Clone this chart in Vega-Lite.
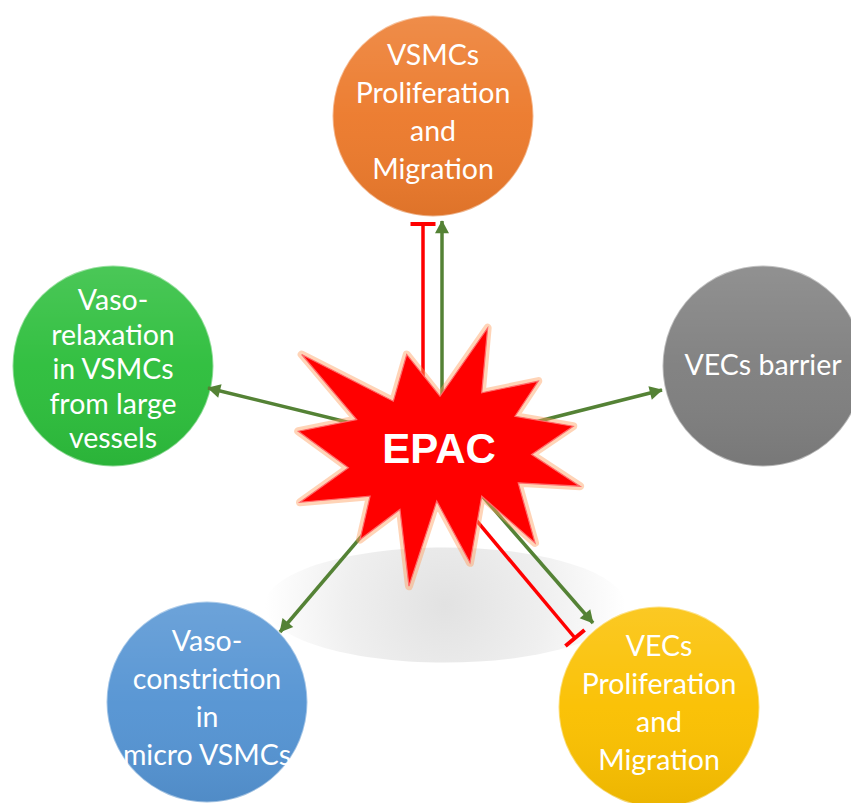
{
  "$schema": "https://vega.github.io/schema/vega-lite/v6.json",
  "width": 851,
  "height": 803,
  "padding": 0,
  "autosize": "none",
  "background": "#ffffff",
  "config": {"view": {"stroke": null}},
  "resolve": {"scale": {"color": "independent"}},
  "datasets": {
    "nodes": [
      {"id": "vsmc_prolif", "label": "VSMCs\nProliferation\nand\nMigration", "lines": 4, "x": 433, "y": 116},
      {"id": "vec_barrier", "label": "VECs barrier", "lines": 1, "x": 763, "y": 366},
      {"id": "vasorelax", "label": "Vaso-\nrelaxation\nin VSMCs\nfrom large\nvessels", "lines": 5, "x": 113, "y": 366},
      {"id": "vasoconstr", "label": "Vaso-\nconstriction\nin\nmicro VSMCs", "lines": 4, "x": 207, "y": 702},
      {"id": "vec_prolif", "label": "VECs\nProliferation\nand\nMigration", "lines": 4, "x": 659, "y": 707}
    ],
    "edges": [
      {"target": "vsmc_prolif", "kind": "activate", "x": 442, "y": 420, "x2": 442, "y2": 221, "angle": 0},
      {"target": "vsmc_prolif", "kind": "inhibit", "x": 423, "y": 420, "x2": 423, "y2": 224, "angle": 0},
      {"target": "vasorelax", "kind": "activate", "x": 400, "y": 435, "x2": 208, "y2": 388, "angle": 284},
      {"target": "vec_barrier", "kind": "activate", "x": 480, "y": 436, "x2": 662, "y2": 390, "angle": 76},
      {"target": "vasoconstr", "kind": "activate", "x": 400, "y": 491, "x2": 280, "y2": 632, "angle": 220},
      {"target": "vec_prolif", "kind": "activate", "x": 450, "y": 459, "x2": 593, "y2": 623, "angle": 139},
      {"target": "vec_prolif", "kind": "inhibit", "x": 430, "y": 465, "x2": 575, "y2": 638, "angle": 140}
    ],
    "hub": [
      {"label": "EPAC", "x": 439, "y": 457}
    ],
    "shadow": [
      {"x": 445, "y": 605}
    ]
  },
  "encoding": {
    "x": {"field": "x", "type": "quantitative", "scale": {"domain": [0, 851], "nice": false, "zero": false}, "axis": null},
    "y": {"field": "y", "type": "quantitative", "scale": {"domain": [0, 803], "nice": false, "zero": false, "reverse": true}, "axis": null}
  },
  "layer": [
    {
      "data": {"name": "shadow"},
      "mark": {
        "type": "point",
        "filled": true,
        "opacity": 1,
        "size": 129600,
        "shape": "M-1,0 A1,0.32 0 1,1 1,0 A1,0.32 0 1,1 -1,0 Z",
        "fill": {
          "gradient": "radial",
          "x1": 0.5, "y1": 0.5, "r1": 0,
          "x2": 0.5, "y2": 0.5, "r2": 0.5,
          "stops": [
            {"offset": 0, "color": "#e2e2e2"},
            {"offset": 0.55, "color": "#efefef"},
            {"offset": 1, "color": "#ffffff"}
          ]
        }
      }
    },
    {
      "data": {"name": "nodes"},
      "mark": {"type": "point", "shape": "circle", "filled": true, "opacity": 1, "size": 40400},
      "encoding": {
        "color": {
          "field": "id",
          "type": "nominal",
          "scale": {
            "domain": ["vsmc_prolif", "vec_barrier", "vasorelax", "vasoconstr", "vec_prolif"],
            "range": ["#EC7A2C", "#7F7F7F", "#2DBE3C", "#5594D3", "#FAC000"]
          },
          "legend": null
        }
      }
    },
    {
      "data": {"name": "nodes"},
      "mark": {
        "type": "point",
        "shape": "circle",
        "filled": true,
        "opacity": 1,
        "size": 40400,
        "stroke": "#ffffff",
        "strokeOpacity": 0.45,
        "strokeWidth": 2,
        "fill": {
          "gradient": "linear",
          "x1": 0, "y1": 0, "x2": 0, "y2": 1,
          "stops": [
            {"offset": 0, "color": "rgba(255,255,255,0.14)"},
            {"offset": 0.5, "color": "rgba(255,255,255,0.03)"},
            {"offset": 1, "color": "rgba(0,0,0,0.06)"}
          ]
        }
      }
    },
    {
      "data": {"name": "edges"},
      "mark": {"type": "rule", "strokeWidth": 3.5, "strokeCap": "butt"},
      "encoding": {
        "x2": {"field": "x2"},
        "y2": {"field": "y2"},
        "color": {
          "field": "kind",
          "type": "nominal",
          "scale": {"domain": ["activate", "inhibit"], "range": ["#548235", "#FF0000"]},
          "legend": null
        }
      }
    },
    {
      "data": {"name": "edges"},
      "transform": [{"filter": "datum.kind === 'activate'"}],
      "mark": {
        "type": "point",
        "filled": true,
        "opacity": 1,
        "color": "#548235",
        "size": 196,
        "shape": "M0,-0.1 L-1,1.75 L1,1.75 Z"
      },
      "encoding": {
        "x": {"field": "x2", "type": "quantitative"},
        "y": {"field": "y2", "type": "quantitative"},
        "angle": {"field": "angle", "type": "quantitative", "scale": null}
      }
    },
    {
      "data": {"name": "edges"},
      "transform": [{"filter": "datum.kind === 'inhibit'"}],
      "mark": {
        "type": "point",
        "filled": false,
        "opacity": 1,
        "color": "#FF0000",
        "strokeWidth": 4,
        "size": 625,
        "shape": "M-1,0 L1,0"
      },
      "encoding": {
        "x": {"field": "x2", "type": "quantitative"},
        "y": {"field": "y2", "type": "quantitative"},
        "angle": {"field": "angle", "type": "quantitative", "scale": null}
      }
    },
    {
      "data": {"name": "hub"},
      "mark": {
        "type": "point",
        "filled": false,
        "opacity": 1,
        "size": 79524,
        "stroke": "#FFA060",
        "strokeOpacity": 0.45,
        "strokeWidth": 8,
        "strokeJoin": "round",
        "shape": "M-0.974,-0.727 L-0.324,-0.396 L-0.229,-0.727 L0.007,-0.431 L0.345,-0.916 L0.303,-0.455 L0.704,-0.538 L0.539,-0.289 L0.952,-0.218 L0.657,-0.018 L1,0.207 L0.562,0.183 L0.681,0.609 L0.303,0.278 L0.22,0.75 L-0.016,0.313 L-0.213,0.916 L-0.277,0.372 L-0.56,0.585 L-0.489,0.278 L-0.986,0.321 L-0.643,0.077 L-0.998,-0.183 L-0.584,-0.266 Z"
      }
    },
    {
      "data": {"name": "hub"},
      "mark": {
        "type": "point",
        "filled": true,
        "opacity": 1,
        "size": 79524,
        "fill": "#FF0000",
        "stroke": "#FF6A6A",
        "strokeWidth": 1.2,
        "strokeJoin": "miter",
        "shape": "M-0.974,-0.727 L-0.324,-0.396 L-0.229,-0.727 L0.007,-0.431 L0.345,-0.916 L0.303,-0.455 L0.704,-0.538 L0.539,-0.289 L0.952,-0.218 L0.657,-0.018 L1,0.207 L0.562,0.183 L0.681,0.609 L0.303,0.278 L0.22,0.75 L-0.016,0.313 L-0.213,0.916 L-0.277,0.372 L-0.56,0.585 L-0.489,0.278 L-0.986,0.321 L-0.643,0.077 L-0.998,-0.183 L-0.584,-0.266 Z"
      }
    },
    {
      "data": {"name": "hub"},
      "mark": {
        "type": "text",
        "font": "Liberation Sans",
        "fontWeight": "bold",
        "fontSize": 42,
        "color": "#ffffff",
        "align": "center",
        "baseline": "middle",
        "dy": -7
      },
      "encoding": {"text": {"field": "label"}}
    },
    {
      "data": {"name": "nodes"},
      "transform": [{"filter": "datum.lines === 4"}],
      "mark": {
        "type": "text",
        "font": "Lato",
        "fontSize": 28.5,
        "color": "#ffffff",
        "align": "center",
        "baseline": "middle",
        "lineBreak": "\n",
        "lineHeight": 38,
        "dy": -60
      },
      "encoding": {"text": {"field": "label"}}
    },
    {
      "data": {"name": "nodes"},
      "transform": [{"filter": "datum.lines === 5"}],
      "mark": {
        "type": "text",
        "font": "Lato",
        "fontSize": 28.5,
        "color": "#ffffff",
        "align": "center",
        "baseline": "middle",
        "lineBreak": "\n",
        "lineHeight": 34.5,
        "dy": -65
      },
      "encoding": {"text": {"field": "label"}}
    },
    {
      "data": {"name": "nodes"},
      "transform": [{"filter": "datum.lines === 1"}],
      "mark": {
        "type": "text",
        "font": "Lato",
        "fontSize": 28.5,
        "color": "#ffffff",
        "align": "center",
        "baseline": "middle"
      },
      "encoding": {"text": {"field": "label"}}
    }
  ]
}
